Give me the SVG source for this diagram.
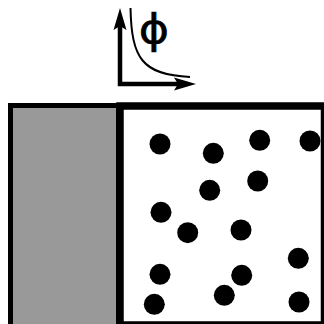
<svg xmlns="http://www.w3.org/2000/svg" width="324" height="324" viewBox="0 0 324 324">
<style>
.p{fill:#000}
.ax{fill:none;stroke:#000;stroke-width:4.5;stroke-linejoin:miter}
.lbl{font-family:"DejaVu Sans","Noto Sans",sans-serif;font-size:40px;fill:#000;stroke:#000;stroke-width:0.6}
</style>
<rect width="324" height="324" fill="#fff"/>
<g id="wall">
<rect x="10.5" y="105.5" width="108" height="225" fill="#999" stroke="#000" stroke-width="5"/>
</g>
<g id="chamber">
<rect x="120" y="106" width="204.5" height="219" fill="#fff" stroke="#000" stroke-width="7.5"/>
</g>
<g id="particles">
<circle class="p" cx="160" cy="144" r="10.5"/>
<circle class="p" cx="213.3" cy="153.3" r="10.5"/>
<circle class="p" cx="259.7" cy="140.3" r="10.5"/>
<circle class="p" cx="310" cy="141" r="10.5"/>
<circle class="p" cx="209.7" cy="190.3" r="10.5"/>
<circle class="p" cx="257.7" cy="181" r="10.5"/>
<circle class="p" cx="161" cy="212.3" r="10.5"/>
<circle class="p" cx="187.7" cy="232.7" r="10.5"/>
<circle class="p" cx="241" cy="230" r="10.5"/>
<circle class="p" cx="298.3" cy="258.3" r="10.5"/>
<circle class="p" cx="160" cy="274.3" r="10.5"/>
<circle class="p" cx="241.7" cy="275.3" r="10.5"/>
<circle class="p" cx="224.3" cy="295.3" r="10.5"/>
<circle class="p" cx="154.3" cy="304.3" r="10.5"/>
<circle class="p" cx="299" cy="302" r="10.5"/>
</g>
<g id="axes">
<path class="ax" d="M120,26 V84 H178"/>
<polygon points="120,8 126.5,30 120,26 113.5,30" fill="#000"/>
<polygon points="196,84 174,77.5 178,84 174,90.5" fill="#000"/>
<path d="M130.5,8 C131.5,58 142,75 190,77" fill="none" stroke="#000" stroke-width="2"/>
</g>
<g id="label">
<text class="lbl" transform="translate(154,42.5) scale(1.15,1)" text-anchor="middle">ϕ</text>
</g>
</svg>
